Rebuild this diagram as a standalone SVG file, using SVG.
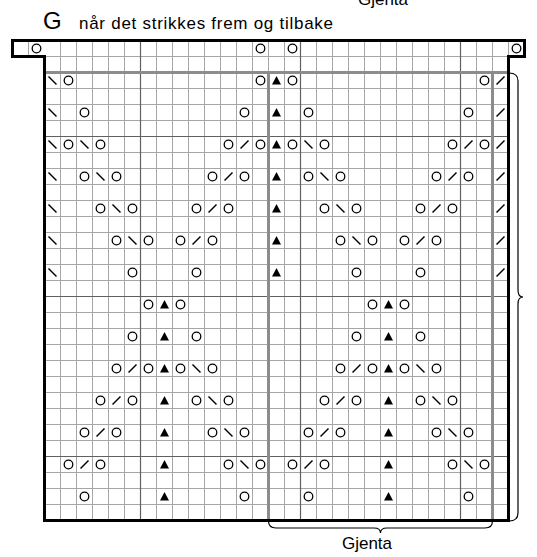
<svg xmlns="http://www.w3.org/2000/svg" xmlns:xlink="http://www.w3.org/1999/xlink" width="537" height="557" viewBox="0 0 537 557">
<style>
text{font-family:"Liberation Sans",Arial,Helvetica,sans-serif;fill:#000}
.thin{fill:none;stroke:#a6a6a6;stroke-width:1}
.dark{fill:none;stroke:#606060;stroke-width:1.2}
.rep{fill:none;stroke:#8c8c8c;stroke-width:3}
.border{fill:none;stroke:#000;stroke-width:3;stroke-linejoin:miter}
.brace{fill:none;stroke:#000;stroke-width:1.2}
</style>
<defs>
<g id="o"><circle cx="0" cy="0" r="4.3" fill="none" stroke="#000" stroke-width="1.3"/></g>
<g id="bs"><line x1="-4" y1="-4" x2="4" y2="4" stroke="#000" stroke-width="1.5"/></g>
<g id="fs"><line x1="-4" y1="4" x2="4" y2="-4" stroke="#000" stroke-width="1.5"/></g>
<g id="t"><polygon points="0,-4.5 4.5,4 -4.5,4" fill="#000"/></g>
</defs>
<rect width="537" height="557" fill="#fff"/>
<g id="labels">
<text x="43" y="29" font-size="24">G</text>
<text x="79" y="29" font-size="17" textLength="254" lengthAdjust="spacing">når det strikkes frem og tilbake</text>
<text x="383" y="5" font-size="17" text-anchor="middle">Gjenta</text>
<text x="367" y="549" font-size="17" text-anchor="middle">Gjenta</text>
</g>
<g id="grid" transform="translate(44.5,40.5)">
<path class="thin" d="M-16 0V16M16 0V480M32 0V480M48 0V480M64 0V480M80 0V480M96 0V480M112 0V480M128 0V480M144 0V480M160 0V480M176 0V480M192 0V480M208 0V480M224 0V480M240 0V480M256 0V480M272 0V480M288 0V480M304 0V480M320 0V480M336 0V480M352 0V480M368 0V480M384 0V480M400 0V480M416 0V480M432 0V480M448 0V480M464 0V16M0 16H464M0 32H464M0 48H464M0 64H464M0 80H464M0 96H464M0 112H464M0 128H464M0 144H464M0 160H464M0 176H464M0 192H464M0 208H464M0 224H464M0 240H464M0 256H464M0 272H464M0 288H464M0 304H464M0 320H464M0 336H464M0 352H464M0 368H464M0 384H464M0 400H464M0 416H464M0 432H464M0 448H464M0 464H464"/>
<path class="dark" d="M96 0V480M256 0V480M416 0V480M0 96H464M0 256H464M0 416H464"/>
<path class="rep" d="M0 32H464M224 32V480M448 32V480"/>
<path class="border" d="M-32 0H480V16H464V480H0V16H-32Z"/>
</g>
<g id="connectors">
<path class="brace" d="M509 73Q518 73 518 81V290Q518 297 523 297Q518 297 518 304V513Q518 521 509 521"/>
<path class="brace" d="M268.5 521Q268.5 528 276 528H374Q380.5 528 380.5 533Q380.5 528 387 528H485Q492.5 528 492.5 521"/>
</g>
<g id="symbols" transform="translate(52.5,48.5)">
<use href="#o" x="-16" y="0"/><use href="#o" x="208" y="0"/><use href="#o" x="240" y="0"/><use href="#o" x="464" y="0"/>
<use href="#bs" x="0" y="32"/><use href="#o" x="16" y="32"/><use href="#o" x="208" y="32"/><use href="#t" x="224" y="32"/><use href="#o" x="240" y="32"/><use href="#o" x="432" y="32"/><use href="#fs" x="448" y="32"/>
<use href="#bs" x="0" y="64"/><use href="#o" x="32" y="64"/><use href="#o" x="192" y="64"/><use href="#t" x="224" y="64"/><use href="#o" x="256" y="64"/><use href="#o" x="416" y="64"/><use href="#fs" x="448" y="64"/>
<use href="#bs" x="0" y="96"/><use href="#o" x="16" y="96"/><use href="#bs" x="32" y="96"/><use href="#o" x="48" y="96"/><use href="#o" x="176" y="96"/><use href="#fs" x="192" y="96"/><use href="#o" x="208" y="96"/><use href="#t" x="224" y="96"/><use href="#o" x="240" y="96"/><use href="#bs" x="256" y="96"/><use href="#o" x="272" y="96"/><use href="#o" x="400" y="96"/><use href="#fs" x="416" y="96"/><use href="#o" x="432" y="96"/><use href="#fs" x="448" y="96"/>
<use href="#bs" x="0" y="128"/><use href="#o" x="32" y="128"/><use href="#bs" x="48" y="128"/><use href="#o" x="64" y="128"/><use href="#o" x="160" y="128"/><use href="#fs" x="176" y="128"/><use href="#o" x="192" y="128"/><use href="#t" x="224" y="128"/><use href="#o" x="256" y="128"/><use href="#bs" x="272" y="128"/><use href="#o" x="288" y="128"/><use href="#o" x="384" y="128"/><use href="#fs" x="400" y="128"/><use href="#o" x="416" y="128"/><use href="#fs" x="448" y="128"/>
<use href="#bs" x="0" y="160"/><use href="#o" x="48" y="160"/><use href="#bs" x="64" y="160"/><use href="#o" x="80" y="160"/><use href="#o" x="144" y="160"/><use href="#fs" x="160" y="160"/><use href="#o" x="176" y="160"/><use href="#t" x="224" y="160"/><use href="#o" x="272" y="160"/><use href="#bs" x="288" y="160"/><use href="#o" x="304" y="160"/><use href="#o" x="368" y="160"/><use href="#fs" x="384" y="160"/><use href="#o" x="400" y="160"/><use href="#fs" x="448" y="160"/>
<use href="#bs" x="0" y="192"/><use href="#o" x="64" y="192"/><use href="#bs" x="80" y="192"/><use href="#o" x="96" y="192"/><use href="#o" x="128" y="192"/><use href="#fs" x="144" y="192"/><use href="#o" x="160" y="192"/><use href="#t" x="224" y="192"/><use href="#o" x="288" y="192"/><use href="#bs" x="304" y="192"/><use href="#o" x="320" y="192"/><use href="#o" x="352" y="192"/><use href="#fs" x="368" y="192"/><use href="#o" x="384" y="192"/><use href="#fs" x="448" y="192"/>
<use href="#bs" x="0" y="224"/><use href="#o" x="80" y="224"/><use href="#o" x="144" y="224"/><use href="#t" x="224" y="224"/><use href="#o" x="304" y="224"/><use href="#o" x="368" y="224"/><use href="#fs" x="448" y="224"/>
<use href="#o" x="96" y="256"/><use href="#t" x="112" y="256"/><use href="#o" x="128" y="256"/><use href="#o" x="320" y="256"/><use href="#t" x="336" y="256"/><use href="#o" x="352" y="256"/>
<use href="#o" x="80" y="288"/><use href="#t" x="112" y="288"/><use href="#o" x="144" y="288"/><use href="#o" x="304" y="288"/><use href="#t" x="336" y="288"/><use href="#o" x="368" y="288"/>
<use href="#o" x="64" y="320"/><use href="#fs" x="80" y="320"/><use href="#o" x="96" y="320"/><use href="#t" x="112" y="320"/><use href="#o" x="128" y="320"/><use href="#bs" x="144" y="320"/><use href="#o" x="160" y="320"/><use href="#o" x="288" y="320"/><use href="#fs" x="304" y="320"/><use href="#o" x="320" y="320"/><use href="#t" x="336" y="320"/><use href="#o" x="352" y="320"/><use href="#bs" x="368" y="320"/><use href="#o" x="384" y="320"/>
<use href="#o" x="48" y="352"/><use href="#fs" x="64" y="352"/><use href="#o" x="80" y="352"/><use href="#t" x="112" y="352"/><use href="#o" x="144" y="352"/><use href="#bs" x="160" y="352"/><use href="#o" x="176" y="352"/><use href="#o" x="272" y="352"/><use href="#fs" x="288" y="352"/><use href="#o" x="304" y="352"/><use href="#t" x="336" y="352"/><use href="#o" x="368" y="352"/><use href="#bs" x="384" y="352"/><use href="#o" x="400" y="352"/>
<use href="#o" x="32" y="384"/><use href="#fs" x="48" y="384"/><use href="#o" x="64" y="384"/><use href="#t" x="112" y="384"/><use href="#o" x="160" y="384"/><use href="#bs" x="176" y="384"/><use href="#o" x="192" y="384"/><use href="#o" x="256" y="384"/><use href="#fs" x="272" y="384"/><use href="#o" x="288" y="384"/><use href="#t" x="336" y="384"/><use href="#o" x="384" y="384"/><use href="#bs" x="400" y="384"/><use href="#o" x="416" y="384"/>
<use href="#o" x="16" y="416"/><use href="#fs" x="32" y="416"/><use href="#o" x="48" y="416"/><use href="#t" x="112" y="416"/><use href="#o" x="176" y="416"/><use href="#bs" x="192" y="416"/><use href="#o" x="208" y="416"/><use href="#o" x="240" y="416"/><use href="#fs" x="256" y="416"/><use href="#o" x="272" y="416"/><use href="#t" x="336" y="416"/><use href="#o" x="400" y="416"/><use href="#bs" x="416" y="416"/><use href="#o" x="432" y="416"/>
<use href="#o" x="32" y="448"/><use href="#t" x="112" y="448"/><use href="#o" x="192" y="448"/><use href="#o" x="256" y="448"/><use href="#t" x="336" y="448"/><use href="#o" x="416" y="448"/>
</g>
</svg>
